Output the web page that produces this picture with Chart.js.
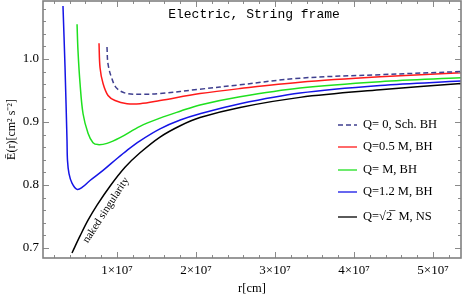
<!DOCTYPE html>
<html>
<head>
<meta charset="utf-8">
<script src="https://cdn.jsdelivr.net/npm/chart.js@4"></script>
<style>
  body { margin: 0; background: #fff; }
  #wrap { width: 463px; height: 300px; }
</style>
</head>
<body>
<div id="wrap"><canvas id="myChart"></canvas></div>
<script>
// r in units of 1e7 cm, E dimensionless
const legendLabels = ['Q= 0, Sch. BH', 'Q=0.5 M, BH', 'Q= M, BH', 'Q=1.2 M, BH', 'Q=\u221A2\u0305  M, NS'];

const rSch = [0.873, 0.886, 0.937, 1.0, 1.127, 1.329, 1.544, 2.05, 2.557, 3.316, 4.33, 5.354];
const eSch = [1.019, 0.992, 0.968, 0.953, 0.945, 0.944, 0.945, 0.952, 0.959, 0.9695, 0.975, 0.980];

const rQ05 = [0.772, 0.785, 0.823, 0.886, 0.975, 1.127, 1.291, 1.544, 2.05, 2.557, 3.316, 4.33, 5.354];
const eQ05 = [1.025, 0.986, 0.961, 0.942, 0.934, 0.929, 0.929, 0.934, 0.945, 0.953, 0.963, 0.9716, 0.978];

const rQ1 = [0.494, 0.506, 0.532, 0.570, 0.633, 0.696, 0.759, 0.873, 1.038, 1.291, 1.544, 1.80, 2.05, 2.557, 3.316, 4.33, 5.354];
const eQ1 = [1.055, 1.013, 0.961, 0.913, 0.882, 0.867, 0.864, 0.866, 0.875, 0.893, 0.906, 0.917, 0.927, 0.940, 0.954, 0.964, 0.970];

const rQ12 = [0.316, 0.342, 0.367, 0.373, 0.392, 0.430, 0.494, 0.557, 0.658, 0.823, 1.0, 1.127, 1.291, 1.544, 1.80, 2.05, 2.557, 3.316, 4.33, 5.354];
const eQ12 = [1.084, 0.986, 0.870, 0.839, 0.818, 0.803, 0.793, 0.796, 0.807, 0.823, 0.842, 0.855, 0.870, 0.889, 0.903, 0.913, 0.929, 0.946, 0.958, 0.965];

const rNS = [0.430, 0.532, 0.633, 0.747, 0.911, 1.101, 1.291, 1.544, 1.80, 2.05, 2.557, 3.316, 4.33, 5.354];
const eNS = [0.692, 0.719, 0.744, 0.768, 0.798, 0.828, 0.851, 0.876, 0.894, 0.907, 0.923, 0.939, 0.951, 0.961];

const xMin = 0.063, xMax = 5.354;
const yMin = 0.684, yMax = 1.092;

function pts(r, e) {
    return r.map((v, i) => ({ x: v, y: e[i] }));
}

function isMajor(v, step) {
    return Math.abs(v / step - Math.round(v / step)) < 1e-6;
}

const serif = '"Liberation Serif", "Times New Roman", serif';

// frame with inward ticks on all four sides
const framePlugin = {
    id: 'frame',
    afterDatasetsDraw(chart) {
        const { ctx, chartArea: a, scales: { x, y } } = chart;
        ctx.save();
        ctx.strokeStyle = '#8a8a8a';
        ctx.lineWidth = 1;
        ctx.beginPath();
        x.ticks.forEach((t) => {
            const px = Math.round(x.getPixelForValue(t.value)) + 0.5;
            const len = isMajor(t.value, 1) ? 6 : 3;
            ctx.moveTo(px, a.bottom); ctx.lineTo(px, a.bottom - len);
            ctx.moveTo(px, a.top); ctx.lineTo(px, a.top + len);
        });
        y.ticks.forEach((t) => {
            const py = Math.round(y.getPixelForValue(t.value)) + 0.5;
            const len = isMajor(t.value, 0.1) ? 6 : 3;
            ctx.moveTo(a.left, py); ctx.lineTo(a.left + len, py);
            ctx.moveTo(a.right, py); ctx.lineTo(a.right - len, py);
        });
        ctx.stroke();
        ctx.lineWidth = 1.6;
        ctx.strokeStyle = '#808080';
        ctx.strokeRect(a.left, a.top, a.right - a.left, a.bottom - a.top);

        // title
        ctx.fillStyle = '#000';
        ctx.font = '13px "Liberation Mono", monospace';
        ctx.textAlign = 'center';
        ctx.textBaseline = 'middle';
        ctx.fillText('Electric, String frame', 254, a.top + 14);

        // curve label
        ctx.save();
        ctx.translate(x.getPixelForValue(0.861), y.getPixelForValue(0.760));
        ctx.rotate(-57 * Math.PI / 180);
        ctx.font = '11px ' + serif;
        ctx.fillText('naked singularity', 0, 0);
        ctx.restore();

        // legend
        const rows = [125, 147, 170, 192, 217];
        ctx.font = '12.5px ' + serif;
        ctx.textAlign = 'left';
        chart.data.datasets.forEach((ds, i) => {
            ctx.beginPath();
            ctx.strokeStyle = ds.borderColor;
            ctx.lineWidth = 1.3;
            ctx.setLineDash(ds.borderDash || []);
            ctx.moveTo(338, rows[i]);
            ctx.lineTo(357, rows[i]);
            ctx.stroke();
            ctx.setLineDash([]);
            ctx.fillText(ds.label, 363, rows[i]);
        });
        ctx.restore();
    }
};

const ctx = document.getElementById('myChart');

new Chart(ctx, {
    type: 'line',
    data: {
        datasets: [{
            label: legendLabels[0],
            data: pts(rSch, eSch),
            borderColor: '#3f3f8f',
            borderDash: [5, 3],
        }, {
            label: legendLabels[1],
            data: pts(rQ05, eQ05),
            borderColor: '#ff1a1a',
        }, {
            label: legendLabels[2],
            data: pts(rQ1, eQ1),
            borderColor: '#1fe01f',
        }, {
            label: legendLabels[3],
            data: pts(rQ12, eQ12),
            borderColor: '#1515e6',
        }, {
            label: legendLabels[4],
            data: pts(rNS, eNS),
            borderColor: '#000000',
        }]
    },
    options: {
        responsive: true,
        maintainAspectRatio: false,
        animation: false,
        layout: {
            autoPadding: false,
            padding: { top: 1, right: 2, left: 0, bottom: 0 }
        },
        elements: {
            point: { radius: 0 },
            line: { borderWidth: 1.5, tension: 0.35, fill: false }
        },
        plugins: {
            legend: { display: false },
            tooltip: { enabled: false }
        },
        scales: {
            x: {
                type: 'linear',
                min: xMin,
                max: xMax,
                afterFit: (s) => { s.height = 42; s.paddingLeft = 0; s.paddingRight = 0; },
                grid: { display: false, drawTicks: false },
                border: { display: false },
                ticks: {
                    stepSize: 0.2,
                    includeBounds: false,
                    autoSkip: false,
                    maxRotation: 0,
                    padding: 5,
                    color: '#000',
                    font: { family: serif, size: 13 },
                    callback: (v) => isMajor(v, 1) ? Math.round(v) + '\u00D710\u2077' : ''
                },
                title: {
                    display: true,
                    text: 'r[cm]',
                    color: '#000',
                    font: { family: serif, size: 12.5 },
                    padding: { top: 0, bottom: 4 }
                }
            },
            y: {
                type: 'linear',
                min: yMin,
                max: yMax,
                afterFit: (s) => { s.width = 43; s.paddingTop = 0; s.paddingBottom = 0; },
                grid: { display: false, drawTicks: false },
                border: { display: false },
                ticks: {
                    stepSize: 0.02,
                    includeBounds: false,
                    autoSkip: false,
                    padding: 4,
                    color: '#000',
                    font: { family: serif, size: 13 },
                    callback: (v) => isMajor(v, 0.1) ? v.toFixed(1) : ''
                },
                title: {
                    display: true,
                    text: '\u0112(r)[cm\u00B2 s\u207B\u00B2]',
                    color: '#000',
                    font: { family: serif, size: 12 },
                    padding: { top: 5, bottom: 0 }
                }
            }
        }
    },
    plugins: [framePlugin]
});
</script>
</body>
</html>
